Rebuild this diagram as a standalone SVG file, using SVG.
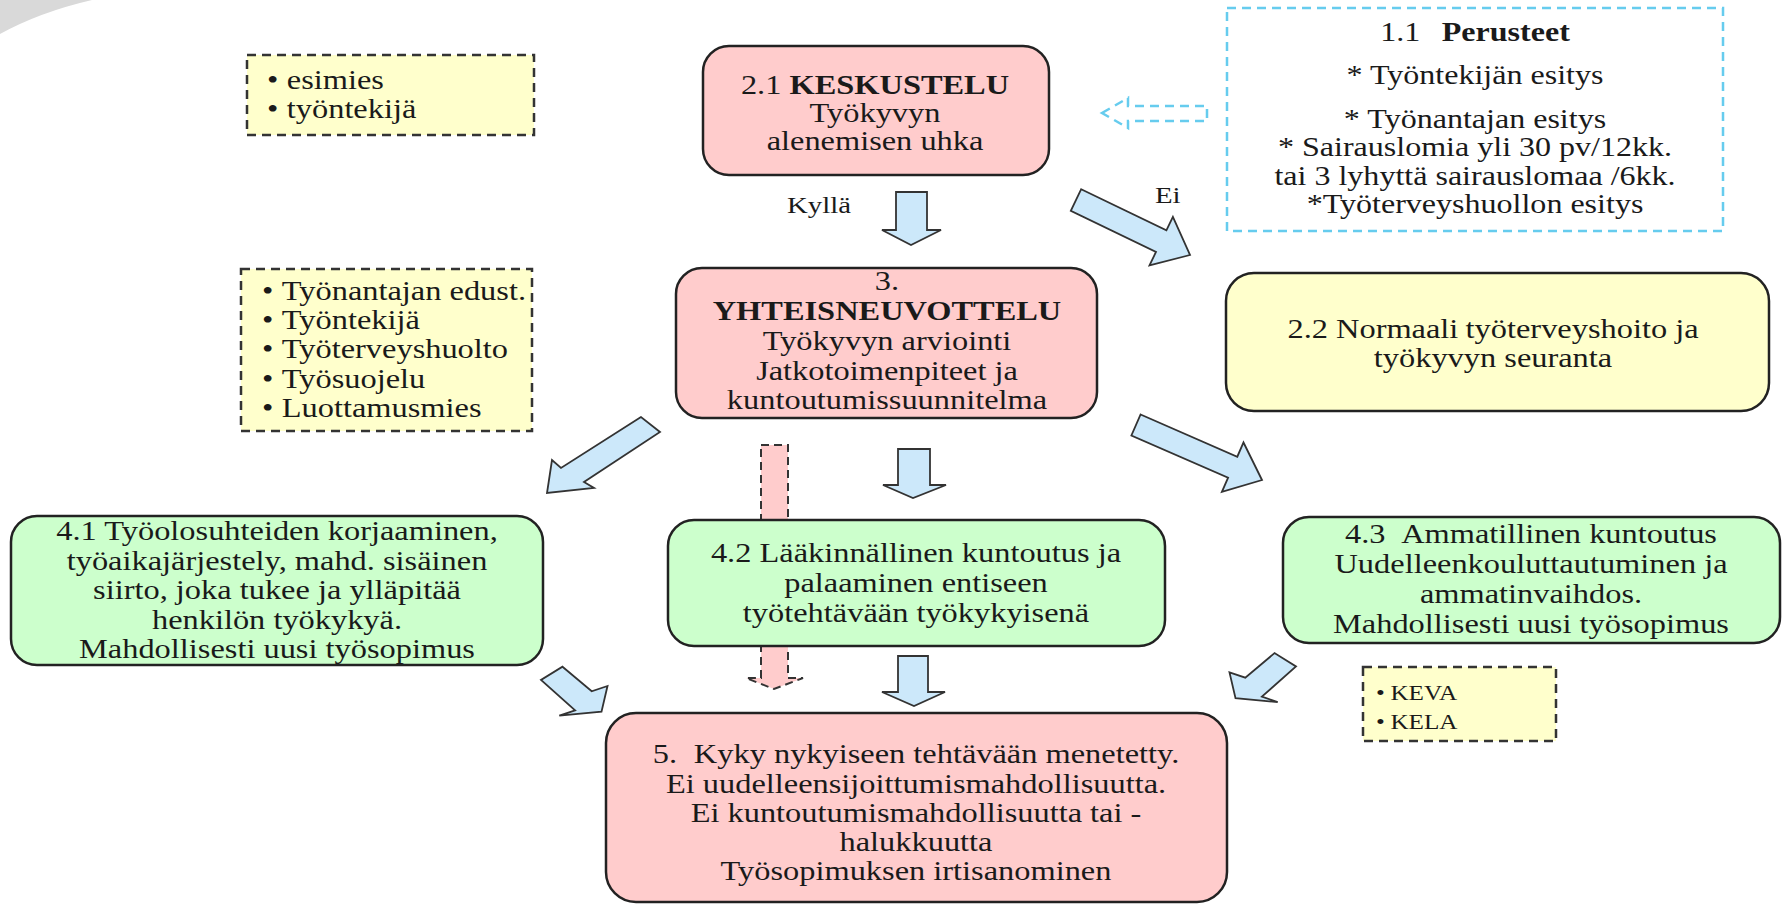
<svg xmlns="http://www.w3.org/2000/svg" width="1783" height="906" viewBox="0 0 1783 906">
<style>
.t{font-family:"Liberation Serif","Times New Roman",serif;font-size:27px;fill:#1a1a1a;text-anchor:middle}
.s{font-family:"Liberation Serif","Times New Roman",serif;font-size:27px;fill:#1a1a1a;text-anchor:start}
.b{font-weight:bold}
.pink{fill:#ffcccc;stroke:#222;stroke-width:2.5}
.green{fill:#ccffcc;stroke:#222;stroke-width:2.5}
.yel{fill:#ffffcc;stroke:#222;stroke-width:2.5}
.dy{fill:#ffffcc;stroke:#333;stroke-width:2.5;stroke-dasharray:9 6}
.db{fill:#ffffff;stroke:#66ccee;stroke-width:2.5;stroke-dasharray:9 6}
.arr{fill:#cce8fa;stroke:#333;stroke-width:1.8;stroke-linejoin:miter}
.parr{fill:#ffcccc;stroke:#333;stroke-width:2;stroke-dasharray:8 5}
</style>
<rect width="1783" height="906" fill="#ffffff"/>
<path d="M0,0 H92 Q40,12 0,34 Z" fill="#d9d9d9"/>

<g id="connectors">
  <polygon class="parr" points="761,445 788,445 788,678 803,678 774,689 746,678 761,678"/>
  <polygon class="db" points="1102,113 1128,98 1128,106 1207,106 1207,121 1128,121 1128,128"/>
  <polygon class="arr" points="896,192 927,192 927,230 941,230 911,245 882,230 896,230"/>
  <polygon class="arr" points="1081.2,189.2 1166.4,230.3 1172.9,216.8 1190,255 1149.5,265.4 1156,251.9 1070.8,210.8"/>
  <polygon class="arr" points="641,417 561,468 552,460 547,493 594,488 584,482 660,432"/>
  <polygon class="arr" points="898,449 930,449 930,485 946,485 913,498 883,485 898,485"/>
  <polygon class="arr" points="1140.6,414.5 1237.3,456.7 1243.5,442.5 1262,480 1221.9,491.9 1228.1,477.7 1131.4,435.5"/>
  <polygon class="arr" points="562.5,666.7 591.7,691.3 607.5,686 601.5,711.7 559.3,715.7 575.1,710.3 541,680"/>
  <polygon class="arr" points="898,656 928,656 928,692 945,692 914,706 882,692 898,692"/>
  <polygon class="arr" points="1274.5,653.1 1245.3,677.7 1229.5,672.4 1235.5,698.1 1277.7,702.1 1261.9,696.7 1296,666.4"/>
  <text class="s" style="font-size:24px" transform="translate(787,213) scale(1.2 1)">Kyllä</text>
  <text class="s" style="font-size:24px" transform="translate(1155,203) scale(1.2 1)">Ei</text>
</g>

<g id="roles1">
  <rect class="dy" x="247" y="55" width="287" height="80"/>
  <text class="s" transform="translate(267,89) scale(1.2 1)"><tspan x="0" y="0">•</tspan><tspan x="16.5" y="0">esimies</tspan><tspan x="0" y="29">•</tspan><tspan x="16.5" y="29">työntekijä</tspan></text>
</g>

<g id="n21">
  <rect class="pink" x="703" y="46" width="346" height="129" rx="26"/>
  <text class="t" transform="translate(875,94) scale(1.2 1)"><tspan x="0" y="0">2.1 <tspan class="b">KESKUSTELU</tspan></tspan><tspan x="0" y="28">Työkyvyn</tspan><tspan x="0" y="56">alenemisen uhka</tspan></text>
</g>

<g id="n11">
  <rect class="db" x="1227" y="8" width="496" height="223"/>
  <text class="t" style="font-size:26.7px" transform="translate(1475,41) scale(1.2 1)"><tspan x="0" y="0">1.1<tspan dx="18" class="b">Perusteet</tspan></tspan><tspan x="0" y="43">* Työntekijän esitys</tspan><tspan x="0" y="87">* Työnantajan esitys</tspan><tspan x="0" y="115">* Sairauslomia yli 30 pv/12kk.</tspan><tspan x="0" y="144">tai 3 lyhyttä sairauslomaa /6kk.</tspan><tspan x="0" y="172">*Työterveyshuollon esitys</tspan></text>
</g>

<g id="roles2">
  <rect class="dy" x="241" y="269" width="291" height="162"/>
  <text class="s" transform="translate(262,300) scale(1.2 1)"><tspan x="0" y="0">•</tspan><tspan x="16.5" y="0">Työnantajan edust.</tspan><tspan x="0" y="29">•</tspan><tspan x="16.5" y="29">Työntekijä</tspan><tspan x="0" y="58">•</tspan><tspan x="16.5" y="58">Työterveyshuolto</tspan><tspan x="0" y="88">•</tspan><tspan x="16.5" y="88">Työsuojelu</tspan><tspan x="0" y="117">•</tspan><tspan x="16.5" y="117">Luottamusmies</tspan></text>
</g>

<g id="n3">
  <rect class="pink" x="676" y="268" width="421" height="150" rx="26"/>
  <text class="t" transform="translate(887,290) scale(1.2 1)"><tspan x="0" y="0">3.</tspan><tspan x="0" y="30" class="b">YHTEISNEUVOTTELU</tspan><tspan x="0" y="60">Työkyvyn arviointi</tspan><tspan x="0" y="90">Jatkotoimenpiteet ja</tspan><tspan x="0" y="119">kuntoutumissuunnitelma</tspan></text>
</g>

<g id="n22">
  <rect class="yel" x="1226" y="273" width="543" height="138" rx="28"/>
  <text class="t" transform="translate(1493,338) scale(1.2 1)"><tspan x="0" y="0">2.2 Normaali<tspan dx="6">työterveyshoito ja</tspan></tspan><tspan x="0" y="29">työkyvyn seuranta</tspan></text>
</g>

<g id="n41">
  <rect class="green" x="11" y="516" width="532" height="149" rx="26"/>
  <text class="t" transform="translate(277,540) scale(1.2 1)"><tspan x="0" y="0">4.1 Työolosuhteiden korjaaminen,</tspan><tspan x="0" y="30">työaikajärjestely, mahd. sisäinen</tspan><tspan x="0" y="59">siirto, joka tukee ja ylläpitää</tspan><tspan x="0" y="89">henkilön työkykyä.</tspan><tspan x="0" y="118">Mahdollisesti uusi työsopimus</tspan></text>
</g>

<g id="n42">
  <rect class="green" x="668" y="520" width="497" height="126" rx="26"/>
  <text class="t" transform="translate(916,562) scale(1.2 1)"><tspan x="0" y="0">4.2 Lääkinnällinen kuntoutus ja</tspan><tspan x="0" y="30">palaaminen entiseen</tspan><tspan x="0" y="60">työtehtävään työkykyisenä</tspan></text>
</g>

<g id="n43">
  <rect class="green" x="1283" y="517" width="497" height="126" rx="26"/>
  <text class="t" transform="translate(1531,543) scale(1.2 1)"><tspan x="0" y="0">4.3<tspan dx="13">Ammatillinen kuntoutus</tspan></tspan><tspan x="0" y="30">Uudelleenkouluttautuminen ja</tspan><tspan x="0" y="60">ammatinvaihdos.</tspan><tspan x="0" y="90">Mahdollisesti uusi työsopimus</tspan></text>
</g>

<g id="roles3">
  <rect class="dy" x="1363" y="667" width="193" height="74"/>
  <text class="s" style="font-size:21px" transform="translate(1376,700) scale(1.2 1)"><tspan x="0" y="0">•</tspan><tspan x="12" y="0">KEVA</tspan><tspan x="0" y="29">•</tspan><tspan x="12" y="29">KELA</tspan></text>
</g>

<g id="n5">
  <rect class="pink" x="606" y="713" width="621" height="189" rx="30"/>
  <text class="t" transform="translate(916,763) scale(1.2 1)"><tspan x="0" y="0">5.<tspan dx="14">Kyky nykyiseen tehtävään menetetty.</tspan></tspan><tspan x="0" y="30">Ei uudelleensijoittumismahdollisuutta.</tspan><tspan x="0" y="59">Ei kuntoutumismahdollisuutta tai -</tspan><tspan x="0" y="88">halukkuutta</tspan><tspan x="0" y="117">Työsopimuksen irtisanominen</tspan></text>
</g>
</svg>
